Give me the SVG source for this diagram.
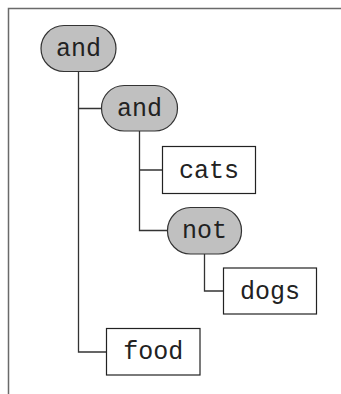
<svg xmlns="http://www.w3.org/2000/svg" width="341" height="394" viewBox="0 0 341 394">
  <style>
    .frame { fill: none; stroke: #6a6a6a; stroke-width: 1.5; }
    .edge { fill: none; stroke: #333; stroke-width: 1.3; }
    .op rect { fill: #c0c0c0; stroke: #333; stroke-width: 1.2; }
    .leaf rect { fill: #fff; stroke: #222; stroke-width: 1.2; }
    text { font-family: "Liberation Mono", "Courier New", monospace; font-size: 25px; fill: #222; text-anchor: middle; }
  </style>
  <rect width="341" height="394" fill="#fff"/>
  <path class="frame" d="M8.5,394 V8.5 H341"/>

  <g id="connectors">
    <path class="edge" d="M78.5,71.5 V352 H106.5 M78.5,108.5 H101.5"/>
    <path class="edge" d="M139.5,131 V230.5 H167.5 M139.5,170 H162.5"/>
    <path class="edge" d="M204.5,254 V291 H223.5"/>
  </g>

  <g id="and-root" class="op">
    <rect x="41" y="25.5" width="75" height="46" rx="23" ry="23"/>
    <text x="78.5" y="56">and</text>
  </g>
  <g id="and-inner" class="op">
    <rect x="101.5" y="85.5" width="76" height="45.5" rx="22.7" ry="22.7"/>
    <text x="139.5" y="116">and</text>
  </g>
  <g id="cats" class="leaf">
    <rect x="162.5" y="146.5" width="93" height="47"/>
    <text x="209" y="177.5">cats</text>
  </g>
  <g id="not" class="op">
    <rect x="167.5" y="207.5" width="74" height="46.5" rx="23" ry="23"/>
    <text x="204.5" y="238">not</text>
  </g>
  <g id="dogs" class="leaf">
    <rect x="223.5" y="268" width="93" height="46"/>
    <text x="270" y="298.5">dogs</text>
  </g>
  <g id="food" class="leaf">
    <rect x="106.5" y="328.5" width="93.5" height="46.5"/>
    <text x="153.3" y="359">food</text>
  </g>
</svg>
